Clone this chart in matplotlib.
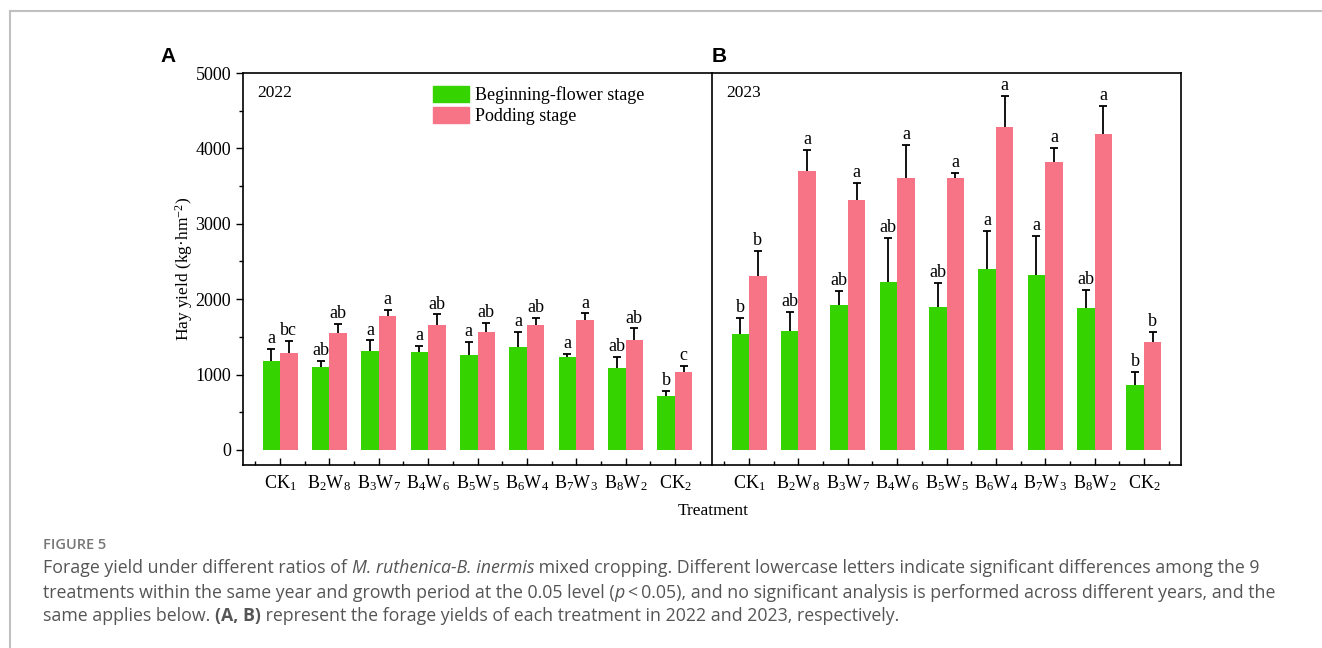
import matplotlib
matplotlib.use("Agg")
import matplotlib.pyplot as plt
import numpy as np
from matplotlib.patches import Patch
from matplotlib.lines import Line2D
from matplotlib.ticker import MultipleLocator

plt.rcParams['font.family'] = ['Liberation Serif', 'DejaVu Serif']
plt.rcParams['mathtext.fontset'] = 'custom'
plt.rcParams['mathtext.rm'] = 'Liberation Serif'
plt.rcParams['mathtext.it'] = 'Liberation Serif:italic'

# treatments
labels = ['CK$_1$', 'B$_2$W$_8$', 'B$_3$W$_7$', 'B$_4$W$_6$', 'B$_5$W$_5$',
          'B$_6$W$_4$', 'B$_7$W$_3$', 'B$_8$W$_2$', 'CK$_2$']

# 2022
flower_22 = [1185, 1106, 1313, 1304, 1260, 1370, 1238, 1088, 709]
flower_22_err = [150, 75, 140, 80, 167, 194, 35, 145, 75]
pod_22 = [1286, 1551, 1775, 1656, 1559, 1661, 1722, 1463, 1040]
pod_22_err = [159, 123, 80, 141, 128, 92, 89, 149, 70]
flower_22_sig = ['a', 'ab', 'a', 'a', 'a', 'a', 'a', 'ab', 'b']
pod_22_sig = ['bc', 'ab', 'a', 'ab', 'ab', 'ab', 'a', 'ab', 'c']

# 2023
flower_23 = [1537, 1581, 1916, 2233, 1894, 2405, 2322, 1885, 859]
flower_23_err = [216, 247, 194, 582, 326, 494, 515, 238, 172]
pod_23 = [2304, 3696, 3317, 3604, 3608, 4278, 3815, 4194, 1436]
pod_23_err = [330, 286, 225, 440, 70, 418, 185, 365, 128]
flower_23_sig = ['b', 'ab', 'ab', 'ab', 'ab', 'a', 'a', 'ab', 'b']
pod_23_sig = ['b', 'a', 'a', 'a', 'a', 'a', 'a', 'a', 'b']

green = '#35d400'
pink = '#f77386'

fig = plt.figure(figsize=(13.22, 6.48), dpi=100)
W, H = 1322, 648

def fx(px):
    return px / W

def fy(py):
    return 1 - py / H

left, right, mid = 243, 1181, 712
bot, top = 465, 73
axA = fig.add_axes([fx(left), fy(bot), fx(mid - left), fy(top) - fy(bot)])
axB = fig.add_axes([fx(mid), fy(bot), fx(right - mid), fy(top) - fy(bot)])

x = np.arange(1, 10)
bw = 0.355

def bars(ax, xs, vals, errs, sig, color):
    vals = np.array(vals)
    errs = np.array(errs)
    ax.bar(xs, vals, bw, color=color, zorder=2)
    ax.vlines(xs, vals, vals + errs, color='black', lw=1.3, zorder=3)
    ax.plot(xs, vals + errs, ls='none', marker='_', ms=6, mew=1.3, color='black', zorder=3)
    for i in range(9):
        ax.text(xs[i], vals[i] + errs[i] + 25, sig[i], ha='center', va='bottom', fontsize=13)

def panel(ax, g, ge, p, pe, gs, ps, year):
    bars(ax, x - bw / 2, g, ge, gs, green)
    bars(ax, x + bw / 2, p, pe, ps, pink)
    ax.set_xlim(0.25, 9.75)
    ax.set_ylim(-200, 5000)
    ax.set_xticks(x)
    ax.set_xticklabels(labels, fontsize=13)
    ax.set_xticks(np.arange(0.5, 10, 1), minor=True)
    ax.tick_params(axis='x', which='major', direction='in', length=5, width=1, pad=6)
    ax.tick_params(axis='x', which='minor', direction='in', length=3, width=1)
    for s in ax.spines.values():
        s.set_linewidth(1.2)
    ax.text(0.03, 0.97, year, transform=ax.transAxes, ha='left', va='top', fontsize=12.5)

panel(axA, flower_22, flower_22_err, pod_22, pod_22_err, flower_22_sig, pod_22_sig, '2022')
panel(axB, flower_23, flower_23_err, pod_23, pod_23_err, flower_23_sig, pod_23_sig, '2023')

axA.set_yticks(np.arange(0, 5001, 1000))
axA.yaxis.set_minor_locator(MultipleLocator(500))
axA.tick_params(axis='y', which='major', direction='out', length=5, width=1, labelsize=13)
axA.tick_params(axis='y', which='minor', direction='out', length=3, width=1)
axA.spines['right'].set_visible(False)
axA.set_ylabel('Hay yield (kg·hm$^{-2}$)', fontsize=12.5, labelpad=0)

axB.set_yticks([])
axB.tick_params(axis='y', which='both', left=False, right=False)

axA.legend(handles=[Patch(color=green, label='Beginning-flower stage'),
                    Patch(color=pink, label='Podding stage')],
           loc='upper left', bbox_to_anchor=(190 / 469, (465 - 86) / 392),
           frameon=False, fontsize=13, borderpad=0, borderaxespad=0,
           handlelength=2.0, handleheight=1.0, handletextpad=0.3, labelspacing=0.15)

fig.text(fx(713), fy(511), 'Treatment', ha='center', va='center', fontsize=12.5)

fig.text(fx(168), fy(56), 'A', ha='center', va='center', fontsize=15,
         fontweight='bold', family='Liberation Sans')
fig.text(fx(719), fy(56), 'B', ha='center', va='center', fontsize=15,
         fontweight='bold', family='Liberation Sans')

# frame lines
fig.add_artist(Line2D([fx(10), 1], [fy(11), fy(11)], color='#c0c0c0', lw=1.5))
fig.add_artist(Line2D([fx(10), fx(10)], [0, fy(11)], color='#c0c0c0', lw=1.5))

# caption
cap_color = '#555555'
fig.text(fx(43), fy(545), 'FIGURE 5', ha='left', va='center', fontsize=10.5,
         family='Open Sans', color='#777777', fontweight='semibold')

renderer = fig.canvas.get_renderer()

def rich_line(pieces, x0, yc, size=12.8):
    xpos = x0
    for txt, style in pieces:
        kw = dict(ha='left', va='center', fontsize=size, family='Open Sans', color=cap_color)
        if style == 'i':
            kw['style'] = 'italic'
        if style == 'b':
            kw['fontweight'] = 'bold'
        t = fig.text(fx(xpos), fy(yc), txt, **kw)
        bb = t.get_window_extent(renderer=renderer)
        xpos += bb.width

rich_line([('Forage yield under different ratios of ', 'n'), ('M. ruthenica-B. inermis', 'i'),
           (' mixed cropping. Different lowercase letters indicate significant differences among the 9', 'n')],
          43, 568)
rich_line([('treatments within the same year and growth period at the 0.05 level (', 'n'), ('p', 'i'),
           ('\u2009<\u20090.05), and no significant analysis is performed across different years, and the', 'n')],
          43, 593)
rich_line([('same applies below. ', 'n'), ('(A, B)', 'b'),
           (' represent the forage yields of each treatment in 2022 and 2023, respectively.', 'n')],
          43, 616)

fig.savefig('out.png', dpi=100)
